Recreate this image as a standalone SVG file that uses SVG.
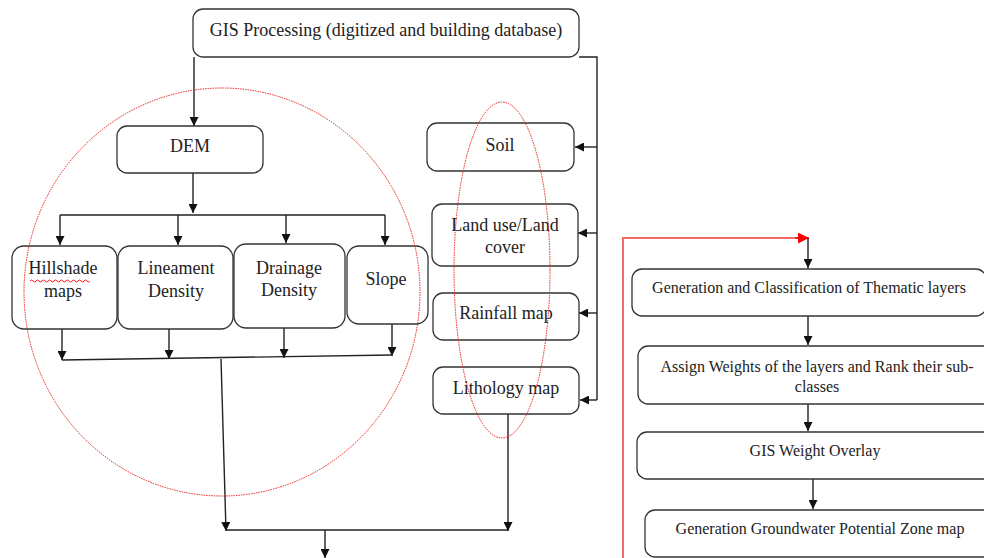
<svg xmlns="http://www.w3.org/2000/svg" width="984" height="558" viewBox="0 0 984 558">
<style>
.box{fill:#fff;stroke:#333;stroke-width:1.3}
.t{font-family:"Liberation Serif","Times New Roman",serif;font-size:18px;fill:#222;text-anchor:middle;dominant-baseline:central}
.t2{font-family:"Liberation Serif","Times New Roman",serif;font-size:16px;fill:#222;text-anchor:middle;dominant-baseline:central}
.c{fill:none;stroke:#222;stroke-width:1.4}
.ca{fill:none;stroke:#222;stroke-width:1.4;marker-end:url(#ah)}
.red{fill:none;stroke:#e8201c;stroke-width:1;stroke-dasharray:1.5 1}
</style>
<defs>
<marker id="ah" viewBox="0 0 10 10" refX="10" refY="5" markerWidth="9" markerHeight="9" markerUnits="userSpaceOnUse" orient="auto"><path d="M0,0 L10,5 L0,10 z" fill="#111"/></marker>
<marker id="ahr" viewBox="0 0 10 10" refX="10" refY="5" markerWidth="11" markerHeight="11" markerUnits="userSpaceOnUse" orient="auto"><path d="M0,0 L10,5 L0,10 z" fill="#f00"/></marker>
</defs>
<rect width="984" height="558" fill="#fff"/>
<g id="connectors">
<path class="ca" d="M194,57 V126"/>
<path class="c" d="M579,57 H597 V400"/>
<path class="ca" d="M597,147 H575"/>
<path class="ca" d="M597,233 H578"/>
<path class="ca" d="M597,313 H579"/>
<path class="ca" d="M597,400 H580"/>
<path class="ca" d="M193,173 V213"/>
<path class="c" d="M60,215 H385"/>
<path class="ca" d="M60,215 V245"/>
<path class="ca" d="M178,215 V245"/>
<path class="ca" d="M286,215 V243"/>
<path class="ca" d="M385,215 V245"/>
<path class="ca" d="M62,329 V360"/>
<path class="ca" d="M169,329 V359"/>
<path class="ca" d="M284,328 V358"/>
<path class="ca" d="M392,324 V356"/>
<path class="c" d="M62,360 L392,355"/>
<path class="ca" d="M221,359 L226,531"/>
<path class="c" d="M226,530 H508"/>
<path class="ca" d="M508,414 V531"/>
<path class="ca" d="M325,530 V558"/>
<path fill="none" stroke="#f26b6b" stroke-width="2" d="M623,558 V238 H800"/>
<path fill="none" stroke="#f00" stroke-width="1.5" marker-end="url(#ahr)" d="M795,238 H809"/>
<path class="ca" d="M808,238 V268"/>
<path class="ca" d="M808,316 V345"/>
<path class="ca" d="M808,404 V431"/>
<path class="ca" d="M813,479 V509"/>
</g>
<g id="gis"><rect class="box" x="193" y="9" width="386" height="48" rx="10"/><text class="t" x="386" y="30">GIS Processing (digitized and building database)</text></g>
<g id="dem"><rect class="box" x="117" y="126" width="146" height="47" rx="10"/><text class="t" x="190" y="146">DEM</text></g>
<g id="hillshade"><rect class="box" x="12" y="246" width="105" height="83" rx="12"/><text class="t" x="63" y="268">Hillshade</text><text class="t" x="63" y="291">maps</text><path d="M30,281 q1.5,-2 3,0 t3,0 t3,0 t3,0 t3,0 t3,0 t3,0 t3,0 t3,0 t3,0 t3,0 t3,0 t3,0 t3,0 t3,0 t3,0 t3,0 t3,0 t3,0 t3,0" fill="none" stroke="#e00" stroke-width="0.9"/></g>
<g id="lineament"><rect class="box" x="118" y="246" width="115" height="83" rx="12"/><text class="t" x="176" y="268">Lineament</text><text class="t" x="176" y="291">Density</text></g>
<g id="drainage"><rect class="box" x="234" y="244" width="111" height="84" rx="12"/><text class="t" x="289" y="268">Drainage</text><text class="t" x="289" y="290">Density</text></g>
<g id="slope"><rect class="box" x="347" y="246" width="81" height="78" rx="12"/><text class="t" x="386" y="279">Slope</text></g>
<g id="soil"><rect class="box" x="427" y="123" width="147" height="48" rx="10"/><text class="t" x="500" y="145">Soil</text></g>
<g id="landuse"><rect class="box" x="432" y="204" width="146" height="62" rx="10"/><text class="t" x="505" y="225">Land use/Land</text><text class="t" x="505" y="247">cover</text></g>
<g id="rainfall"><rect class="box" x="433" y="293" width="146" height="47" rx="10"/><text class="t" x="506" y="313">Rainfall map</text></g>
<g id="lithology"><rect class="box" x="433" y="367" width="146" height="47" rx="10"/><text class="t" x="506" y="388">Lithology map</text></g>
<g id="thematic"><rect class="box" x="632" y="269" width="354" height="47" rx="10"/><text class="t2" x="809" y="287">Generation and Classification of Thematic layers</text></g>
<g id="weights"><rect class="box" x="638" y="346" width="360" height="58" rx="10"/><text class="t2" x="817" y="366">Assign Weights of the layers and Rank their sub-</text><text class="t2" x="817" y="386">classes</text></g>
<g id="overlay"><rect class="box" x="637" y="432" width="360" height="47" rx="10"/><text class="t2" x="815" y="450">GIS Weight Overlay</text></g>
<g id="gwpz"><rect class="box" x="645" y="510" width="352" height="47" rx="10"/><text class="t2" x="820" y="528">Generation Groundwater Potential Zone map</text></g>
<g id="highlights">
<ellipse class="red" cx="222" cy="292" rx="198" ry="204"/>
<ellipse class="red" cx="502" cy="270" rx="48" ry="168"/>
</g>
</svg>
